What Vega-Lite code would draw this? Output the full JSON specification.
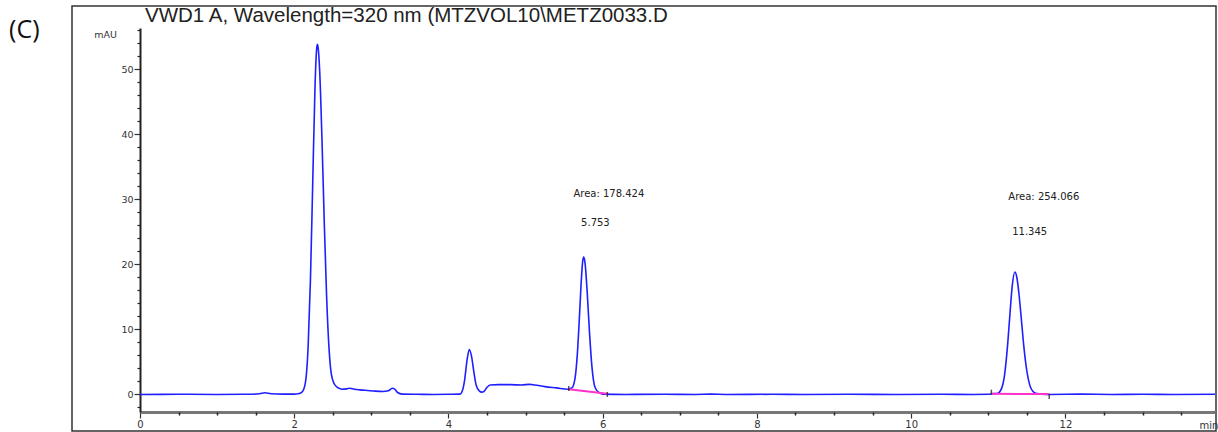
{
  "$schema": "https://vega.github.io/schema/vega-lite/v6.json",
  "width": 1144,
  "height": 425,
  "autosize": {"type": "none"},
  "padding": {"left": 72, "top": 6, "right": 2, "bottom": 1},
  "background": "white",
  "config": {"view": {"stroke": "#333", "strokeWidth": 1.5}, "font": "DejaVu Sans"},
  "title": {"text": "VWD1 A, Wavelength=320 nm (MTZVOL10\\METZ0033.D", "anchor": "start", "frame": "group", "orient": "top", "font": "Liberation Sans", "fontSize": 20.5, "fontWeight": "normal", "color": "#222", "baseline": "alphabetic", "offset": -15, "dx": 73, "dy": 21},
  "datasets": {
    "trace": [
      {"t": 0, "v": 0}, {"t": 0.5, "v": 0.02}, {"t": 1.0, "v": 0.0}, {"t": 1.4, "v": 0.03}, {"t": 1.55, "v": 0.1}, {"t": 1.62, "v": 0.25}, {"t": 1.7, "v": 0.1}, {"t": 1.85, "v": 0.05}, {"t": 2.0, "v": 0.05}, {"t": 2.05, "v": 0.1},
      {"t": 2.1, "v": 0.35}, {"t": 2.14, "v": 1.5}, {"t": 2.18, "v": 7.3}, {"t": 2.21, "v": 17.5}, {"t": 2.24, "v": 32.6}, {"t": 2.27, "v": 47.5}, {"t": 2.29, "v": 53.0}, {"t": 2.3, "v": 53.8}, {"t": 2.31, "v": 53.3}, {"t": 2.33, "v": 49.7},
      {"t": 2.36, "v": 39.1}, {"t": 2.39, "v": 26.2}, {"t": 2.42, "v": 15.0}, {"t": 2.45, "v": 7.3}, {"t": 2.48, "v": 3.2}, {"t": 2.52, "v": 1.6}, {"t": 2.57, "v": 1.0}, {"t": 2.62, "v": 0.8}, {"t": 2.68, "v": 0.85}, {"t": 2.72, "v": 0.95},
      {"t": 2.78, "v": 0.8}, {"t": 2.85, "v": 0.7}, {"t": 2.95, "v": 0.6}, {"t": 3.05, "v": 0.5}, {"t": 3.15, "v": 0.45}, {"t": 3.22, "v": 0.55}, {"t": 3.27, "v": 0.95}, {"t": 3.3, "v": 0.85}, {"t": 3.34, "v": 0.3}, {"t": 3.4, "v": 0.05},
      {"t": 3.6, "v": 0.02}, {"t": 3.8, "v": 0.0}, {"t": 4.0, "v": 0.02}, {"t": 4.15, "v": 0.05}, {"t": 4.18, "v": 0.55}, {"t": 4.21, "v": 2.25}, {"t": 4.24, "v": 5.2}, {"t": 4.27, "v": 6.9}, {"t": 4.3, "v": 5.8}, {"t": 4.33, "v": 3.4},
      {"t": 4.36, "v": 1.4}, {"t": 4.4, "v": 0.55}, {"t": 4.43, "v": 0.35}, {"t": 4.46, "v": 0.45}, {"t": 4.5, "v": 1.1}, {"t": 4.54, "v": 1.45}, {"t": 4.65, "v": 1.5}, {"t": 4.8, "v": 1.5}, {"t": 4.95, "v": 1.45}, {"t": 5.05, "v": 1.55},
      {"t": 5.12, "v": 1.45}, {"t": 5.25, "v": 1.2}, {"t": 5.4, "v": 1.0}, {"t": 5.55, "v": 0.8}, {"t": 5.6, "v": 1.0}, {"t": 5.64, "v": 2.4}, {"t": 5.67, "v": 6.0}, {"t": 5.7, "v": 12.3}, {"t": 5.72, "v": 17.0}, {"t": 5.74, "v": 20.4},
      {"t": 5.753, "v": 21.1}, {"t": 5.77, "v": 20.3}, {"t": 5.8, "v": 15.5}, {"t": 5.83, "v": 9.3}, {"t": 5.86, "v": 4.3}, {"t": 5.9, "v": 1.1}, {"t": 5.95, "v": 0.3}, {"t": 6.0, "v": 0.05}, {"t": 6.3, "v": 0.0}, {"t": 6.8, "v": 0.02},
      {"t": 7.2, "v": 0.0}, {"t": 7.4, "v": 0.05}, {"t": 7.6, "v": 0.0}, {"t": 8.2, "v": 0.02}, {"t": 8.6, "v": 0.0}, {"t": 9.2, "v": 0.03}, {"t": 9.8, "v": 0.0}, {"t": 10.4, "v": 0.02}, {"t": 10.8, "v": 0.0}, {"t": 11.0, "v": 0.02},
      {"t": 11.05, "v": 0.1}, {"t": 11.12, "v": 0.15}, {"t": 11.17, "v": 0.85}, {"t": 11.21, "v": 2.9}, {"t": 11.25, "v": 7.5}, {"t": 11.28, "v": 12.2}, {"t": 11.31, "v": 16.6}, {"t": 11.345, "v": 18.8}, {"t": 11.37, "v": 18.0}, {"t": 11.4, "v": 15.2},
      {"t": 11.43, "v": 11.4}, {"t": 11.46, "v": 7.5}, {"t": 11.5, "v": 3.6}, {"t": 11.54, "v": 1.35}, {"t": 11.58, "v": 0.45}, {"t": 11.63, "v": 0.12}, {"t": 11.7, "v": 0.03}, {"t": 11.8, "v": 0.0}, {"t": 12.2, "v": 0.04}, {"t": 12.6, "v": 0.0},
      {"t": 13.0, "v": 0.03}, {"t": 13.4, "v": 0.0}, {"t": 13.94, "v": 0.02}
    ],
    "baseline": [
      {"seg": "a", "t": 5.56, "v": 0.8}, {"seg": "a", "t": 6.06, "v": 0.1},
      {"seg": "b", "t": 11.04, "v": 0.1}, {"seg": "b", "t": 11.79, "v": 0.05}
    ],
    "marks": [
      {"t": 5.56, "v": 0.9}, {"t": 6.06, "v": 0.0}, {"t": 11.04, "v": 0.35}, {"t": 11.79, "v": -0.3}
    ],
    "notes": [
      {"t": 5.62, "v": 30.8, "label": "Area: 178.424"},
      {"t": 5.72, "v": 26.4, "label": "5.753"},
      {"t": 11.26, "v": 30.3, "label": "Area: 254.066"},
      {"t": 11.31, "v": 25.0, "label": "11.345"}
    ],
    "panel": [{"t": -1.5, "v": 56.0, "label": "(C)"}]
  },
  "encoding": {
    "x": {"field": "t", "type": "quantitative", "axis": null, "scale": {"domain": [0, 13.94], "range": [68, 1143], "nice": false, "zero": false}},
    "y": {"field": "v", "type": "quantitative", "axis": null, "scale": {"domain": [-2.7, 56.3], "range": [406, 22], "nice": false, "zero": false}}
  },
  "layer": [
    {
      "data": {"name": "panel"},
      "mark": {"type": "text", "clip": false, "font": "Open Sans", "fontSize": 25, "align": "center", "baseline": "middle", "color": "#111"},
      "encoding": {"text": {"field": "label"}}
    },
    {
      "data": {"name": "trace"},
      "mark": {"type": "line", "color": "#1f1fff", "strokeWidth": 1.6, "interpolate": "monotone"},
      "encoding": {
        "x": {"field": "t", "type": "quantitative", "scale": {"domain": [0, 13.94], "range": [68, 1143], "nice": false, "zero": false},
          "axis": {"orient": "bottom", "offset": -19, "values": [0, 2, 4, 6, 8, 10, 12], "format": "d", "grid": false, "labelFlush": false, "labelOverlap": false,
            "labelFont": "DejaVu Sans", "labelFontSize": 10, "labelColor": "#333", "labelPadding": 1, "tickSize": 6, "tickColor": "#333", "tickWidth": 1.2,
            "domainColor": "#777", "domainWidth": 3,
            "title": "min", "titleX": 1127, "titleY": 13, "titleAlign": "left", "titleBaseline": "middle", "titleFont": "DejaVu Sans", "titleFontSize": 10, "titleFontWeight": "normal", "titleColor": "#333"}},
        "y": {"field": "v", "type": "quantitative", "scale": {"domain": [-2.7, 56.3], "range": [406, 22], "nice": false, "zero": false},
          "axis": {"orient": "left", "offset": -68, "values": [0, 10, 20, 30, 40, 50], "format": "d", "grid": false, "labelFlush": false, "labelOverlap": false,
            "labelFont": "DejaVu Sans", "labelFontSize": 9.5, "labelColor": "#333", "labelPadding": 1, "tickSize": 6, "tickColor": "#333", "tickWidth": 1.2,
            "domainColor": "#222", "domainWidth": 2,
            "title": "mAU", "titleAngle": 0, "titleX": -35, "titleY": 28, "titleAlign": "center", "titleBaseline": "middle", "titleFont": "DejaVu Sans", "titleFontSize": 9.5, "titleFontWeight": "normal", "titleColor": "#333"}}
      }
    },
    {
      "data": {"name": "baseline"},
      "mark": {"type": "line", "color": "#ff33cc", "strokeWidth": 2},
      "encoding": {
        "detail": {"field": "seg"},
        "x": {"field": "t", "type": "quantitative", "scale": {"domain": [0, 13.94], "range": [68, 1143], "nice": false, "zero": false},
          "axis": {"orient": "bottom", "offset": -19, "values": [0.5, 1, 1.5, 2.5, 3, 3.5, 4.5, 5, 5.5, 6.5, 7, 7.5, 8.5, 9, 9.5, 10.5, 11, 11.5, 12.5, 13, 13.5], "labels": false, "domain": false, "grid": false, "title": null, "tickSize": 3, "tickColor": "#222", "tickWidth": 1.5}},
        "y": {"field": "v", "type": "quantitative", "scale": {"domain": [-2.7, 56.3], "range": [406, 22], "nice": false, "zero": false},
          "axis": {"orient": "left", "offset": -68, "values": [-2, 2, 4, 6, 8, 12, 14, 16, 18, 22, 24, 26, 28, 32, 34, 36, 38, 42, 44, 46, 48, 52, 54, 56], "labels": false, "domain": false, "grid": false, "title": null, "tickSize": 3, "tickColor": "#222", "tickWidth": 1.2}}
      }
    },
    {
      "data": {"name": "marks"},
      "mark": {"type": "tick", "orient": "vertical", "color": "#111", "size": 5, "thickness": 1.5}
    },
    {
      "data": {"name": "notes"},
      "mark": {"type": "text", "clip": false, "font": "DejaVu Sans", "fontSize": 10, "align": "left", "baseline": "middle", "color": "#222"},
      "encoding": {"text": {"field": "label"}}
    }
  ],
  "resolve": {"axis": {"x": "independent", "y": "independent"}}
}
